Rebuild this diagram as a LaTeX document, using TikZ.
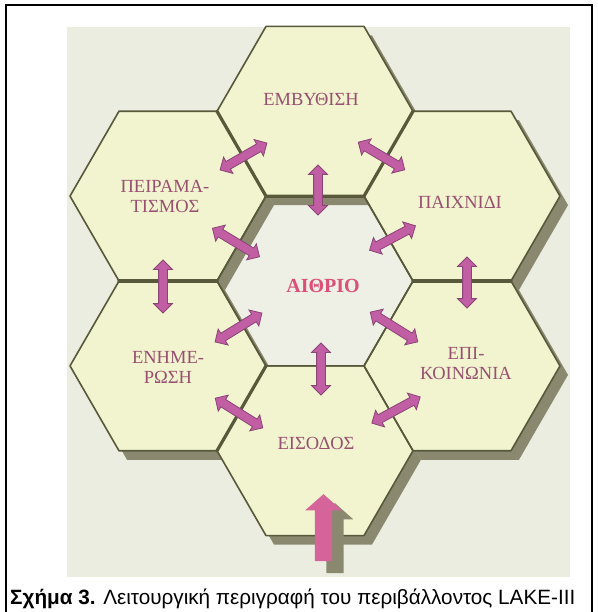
\documentclass[tikz,border=0pt]{standalone}
\usepackage{fontspec}
\setmainfont{Liberation Serif}
\newfontfamily\capfont{Liberation Sans}
\usetikzlibrary{shapes.arrows}

\definecolor{panelbg}{HTML}{ECEDE1}
\definecolor{atriumbg}{HTML}{EEF0E6}
\definecolor{cellfill}{HTML}{F1F4CF}
\definecolor{cellline}{HTML}{58583A}
\definecolor{cellshadow}{HTML}{8A886F}
\definecolor{labelcol}{HTML}{985071}
\definecolor{atriumcol}{HTML}{DB4F79}
\definecolor{linkfill}{HTML}{C25EA4}
\definecolor{linkline}{HTML}{8A4475}
\definecolor{entryfill}{HTML}{D5649A}

\tikzset{
  pics/cellhex/.style={code={
    \path[pic actions] (98,0) -- (49,84.87) -- (-49,84.87) -- (-98,0)
      -- (-49,-84.87) -- (49,-84.87) -- cycle;}},
  cell label/.style={font=\fontsize{18.5}{20}\selectfont, text=labelcol,
    align=center, inner sep=0pt},
  atrium label/.style={font=\bfseries\fontsize{20}{22}\selectfont,
    text=atriumcol, inner sep=0pt},
  thick edge/.style={draw=cellline, line width=3.2pt, line cap=round},
  link/.style={double arrow, fill=linkfill, draw=linkline, line width=0.8pt,
    inner sep=4pt, minimum width=18pt, minimum height=#1,
    double arrow head extend=5pt, double arrow tip angle=90, sloped},
  entry/.style={single arrow, inner sep=8.5pt, minimum width=36pt,
    minimum height=#1, single arrow head extend=9.5pt,
    single arrow tip angle=97, rotate=90},
}

\begin{document}
\begin{tikzpicture}[x=1pt,y=-1pt]
\useasboundingbox (0,0) rectangle (597,612);
\fill[white] (0,0) rectangle (597,612);
% outer frame (its lower edge lies below the page)
\draw[line width=2pt] (5.5,620) -- (5.5,5) -- (591.5,5) -- (591.5,620);
\fill[panelbg] (67,27) rectangle (570,577);

% centres of the honeycomb cells
\coordinate (C)  at (315,281);
\coordinate (T)  at (315,111.3);
\coordinate (B)  at (315,450.7);
\coordinate (UL) at (168,196.1);
\coordinate (UR) at (462,196.1);
\coordinate (LL) at (168,365.9);
\coordinate (LR) at (462,365.9);

% atrium in the middle
\pic[fill=atriumbg] at (C) {cellhex};
% drop shadows of the six surrounding cells
\foreach \c in {T,UL,UR,LL,LR,B}
  \pic[fill=cellshadow] at ([shift={(8,9)}]\c) {cellhex};
% the six cells
\foreach \c in {T,UL,UR,LL,LR,B}
  \pic[fill=cellfill] at (\c) {cellhex};
% outlines
\foreach \c in {C,T,UL,UR,LL,LR,B}
  \pic[draw=cellline, line width=1.6pt, line join=round] at (\c) {cellhex};

% heavier edges where one cell overlaps the next
\draw[thick edge] ([shift={(-49,84.87)}]UL) -- ([shift={(49,84.87)}]UL);
\draw[thick edge] ([shift={(-49,84.87)}]UR) -- ([shift={(49,84.87)}]UR);
\draw[thick edge] ([shift={(-98,0)}]T) -- ([shift={(-49,84.87)}]T)
                  -- ([shift={(49,84.87)}]T) -- ([shift={(98,0)}]T);
\draw[thick edge] ([shift={(98,0)}]LL) -- ([shift={(49,84.87)}]LL);

% labels
\node[cell label] (lblT)  at (311,99)  {ΕΜΒΥΘΙΣΗ};
\node[cell label] (lblUL) at (165,196) {ΠΕΙΡΑΜΑ-\\ΤΙΣΜΟΣ};
\node[cell label] (lblUR) at (460,202) {ΠΑΙΧΝΙΔΙ};
\node[atrium label] (lblC) at (323,286) {ΑΙΘΡΙΟ};
\node[cell label] (lblLL) at (168,367) {ΕΝΗΜΕ-\\ΡΩΣΗ};
\node[cell label] (lblLR) at (466,364) {ΕΠΙ-\\ΚΟΙΝΩΝΙΑ};
\node[cell label] (lblB)  at (316,443) {ΕΙΣΟΔΟΣ};

% two-way passages between neighbouring cells
\foreach \n/\ax/\ay/\bx/\by/\len in {
    1/220/170/267/143/54pt,  2/358/142/405/170/54pt,
    3/318/165/318/215/50pt,  4/212/228/260/257/55pt,
    5/370/250/415/226/52pt,  6/163/260/163/313/53pt,
    7/467/257/467/308/51pt,  8/215/342/262/313/55pt,
    9/370/312/418/342/56pt, 10/321/343/321/395/52pt,
   11/215/398/263/428/56pt, 12/372/423/420/397/55pt} {
  \coordinate (p\n a) at (\ax,\ay);
  \coordinate (p\n b) at (\bx,\by);
  \path (p\n a) -- node[link=\len] (link\n) {} (p\n b);
}

% entrance arrow with its shadow
\coordinate (shadefoot) at (335,577);
\coordinate (shadetip)  at (335,507);
\coordinate (entryfoot) at (323.5,565);
\coordinate (entrytip)  at (323.5,498);
\path (shadefoot) -- node[entry=70pt, fill=cellshadow] (entryshade) {} (shadetip);
\path (entryfoot) -- node[entry=67pt, fill=entryfill] (entryarrow) {} (entrytip);

% caption
\node[anchor=base west, inner sep=0pt, font=\capfont\fontsize{20.7}{24}\selectfont]
  (caption) at (10,604.5)
  {\textbf{Σχήμα 3.} Λειτουργική περιγραφή του περιβάλλοντος LAKE-III};
\end{tikzpicture}
\end{document}
